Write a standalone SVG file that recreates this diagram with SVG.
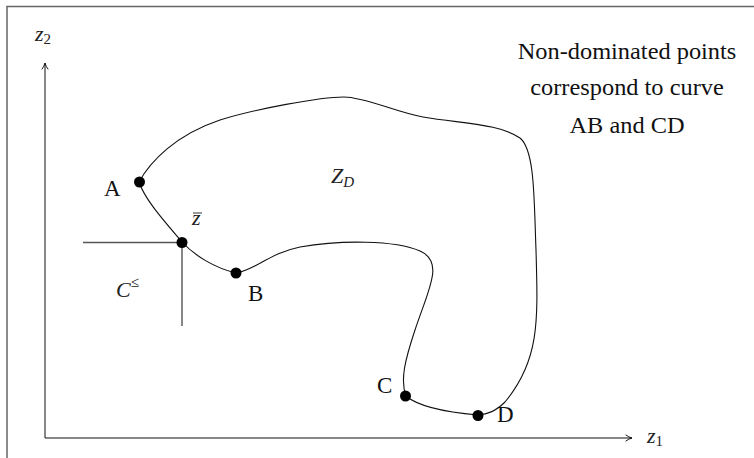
<svg xmlns="http://www.w3.org/2000/svg" width="754" height="458" viewBox="0 0 754 458">
<style>
.t{font-family:"Liberation Serif","Times New Roman",serif;font-size:23px;fill:#111}
.m{font-family:"Liberation Serif","Times New Roman",serif;font-style:italic;font-size:22px;fill:#222}
.s{font-style:normal;font-size:15px}
.ax{stroke:#111;stroke-width:1;fill:none}
.dot{fill:#000}
</style>
<defs>
<marker id="arr" viewBox="0 0 10 10" refX="9" refY="5" markerWidth="8" markerHeight="8" markerUnits="userSpaceOnUse" orient="auto">
<path d="M1,1 Q5,4 9,5 Q5,6 1,9" fill="none" stroke="#111" stroke-width="1.2"/>
</marker>
</defs>
<rect width="754" height="458" fill="#fff"/>
<path d="M7,458 V6.5 H754" fill="none" stroke="#666" stroke-width="1.5"/>
<g id="axes">
<line class="ax" x1="45" y1="438" x2="45" y2="63" marker-end="url(#arr)"/>
<line class="ax" x1="45" y1="438" x2="632" y2="438" marker-end="url(#arr)"/>
<text class="m" x="35" y="41">z<tspan class="s" dy="3">2</tspan></text>
<text class="m" x="647" y="443">z<tspan class="s" dy="3">1</tspan></text>
</g>
<g id="region">
<path d="M139,182 C150,162 175,135 220,120 C255,109 320,97 344,97 C365,97 395,112 423,117 C465,124 500,124 520,138 C535,150 534,200 536,250 C538,320 540,360 505,402 C495,412 487,414 478,415 C455,413 420,408 406,396 C400,380 405,360 415,330 C428,290 445,262 420,251 C395,240 340,240 300,247 C270,253 255,270 236,273 C215,268 195,256 182,242 C165,222 145,200 139,182 Z" fill="none" stroke="#111" stroke-width="1.1"/>
<text class="m" x="331" y="183">Z<tspan font-size="15" dy="4">D</tspan></text>
</g>
<g id="cone">
<path d="M83,242.5 H182 V326" fill="none" stroke="#555" stroke-width="1.4"/>
<text class="m" x="116" y="297" fill="#333">C<tspan class="s" dy="-10">≤</tspan></text>
</g>
<g id="pointA"><circle class="dot" cx="139.5" cy="182" r="5.5"/><text class="t" x="104" y="196">A</text></g>
<g id="pointZbar"><circle class="dot" cx="182" cy="242.5" r="5.5"/><text class="m" x="192" y="225" font-size="20">z</text><line x1="193" y1="213" x2="202" y2="213" stroke="#333" stroke-width="1"/></g>
<g id="pointB"><circle class="dot" cx="236" cy="273" r="5.5"/><text class="t" x="248" y="301">B</text></g>
<g id="pointC"><circle class="dot" cx="405.5" cy="396" r="5.5"/><text class="t" x="377" y="393">C</text></g>
<g id="pointD"><circle class="dot" cx="478" cy="415.5" r="5.5"/><text class="t" x="497" y="422">D</text></g>
<g id="note" transform="translate(627,0) scale(1.06,1)">
<text class="t" x="0" y="59" text-anchor="middle">Non-dominated points</text>
<text class="t" x="0" y="95" text-anchor="middle">correspond to curve</text>
<text class="t" x="0" y="133" text-anchor="middle">AB and CD</text>
</g>
</svg>
